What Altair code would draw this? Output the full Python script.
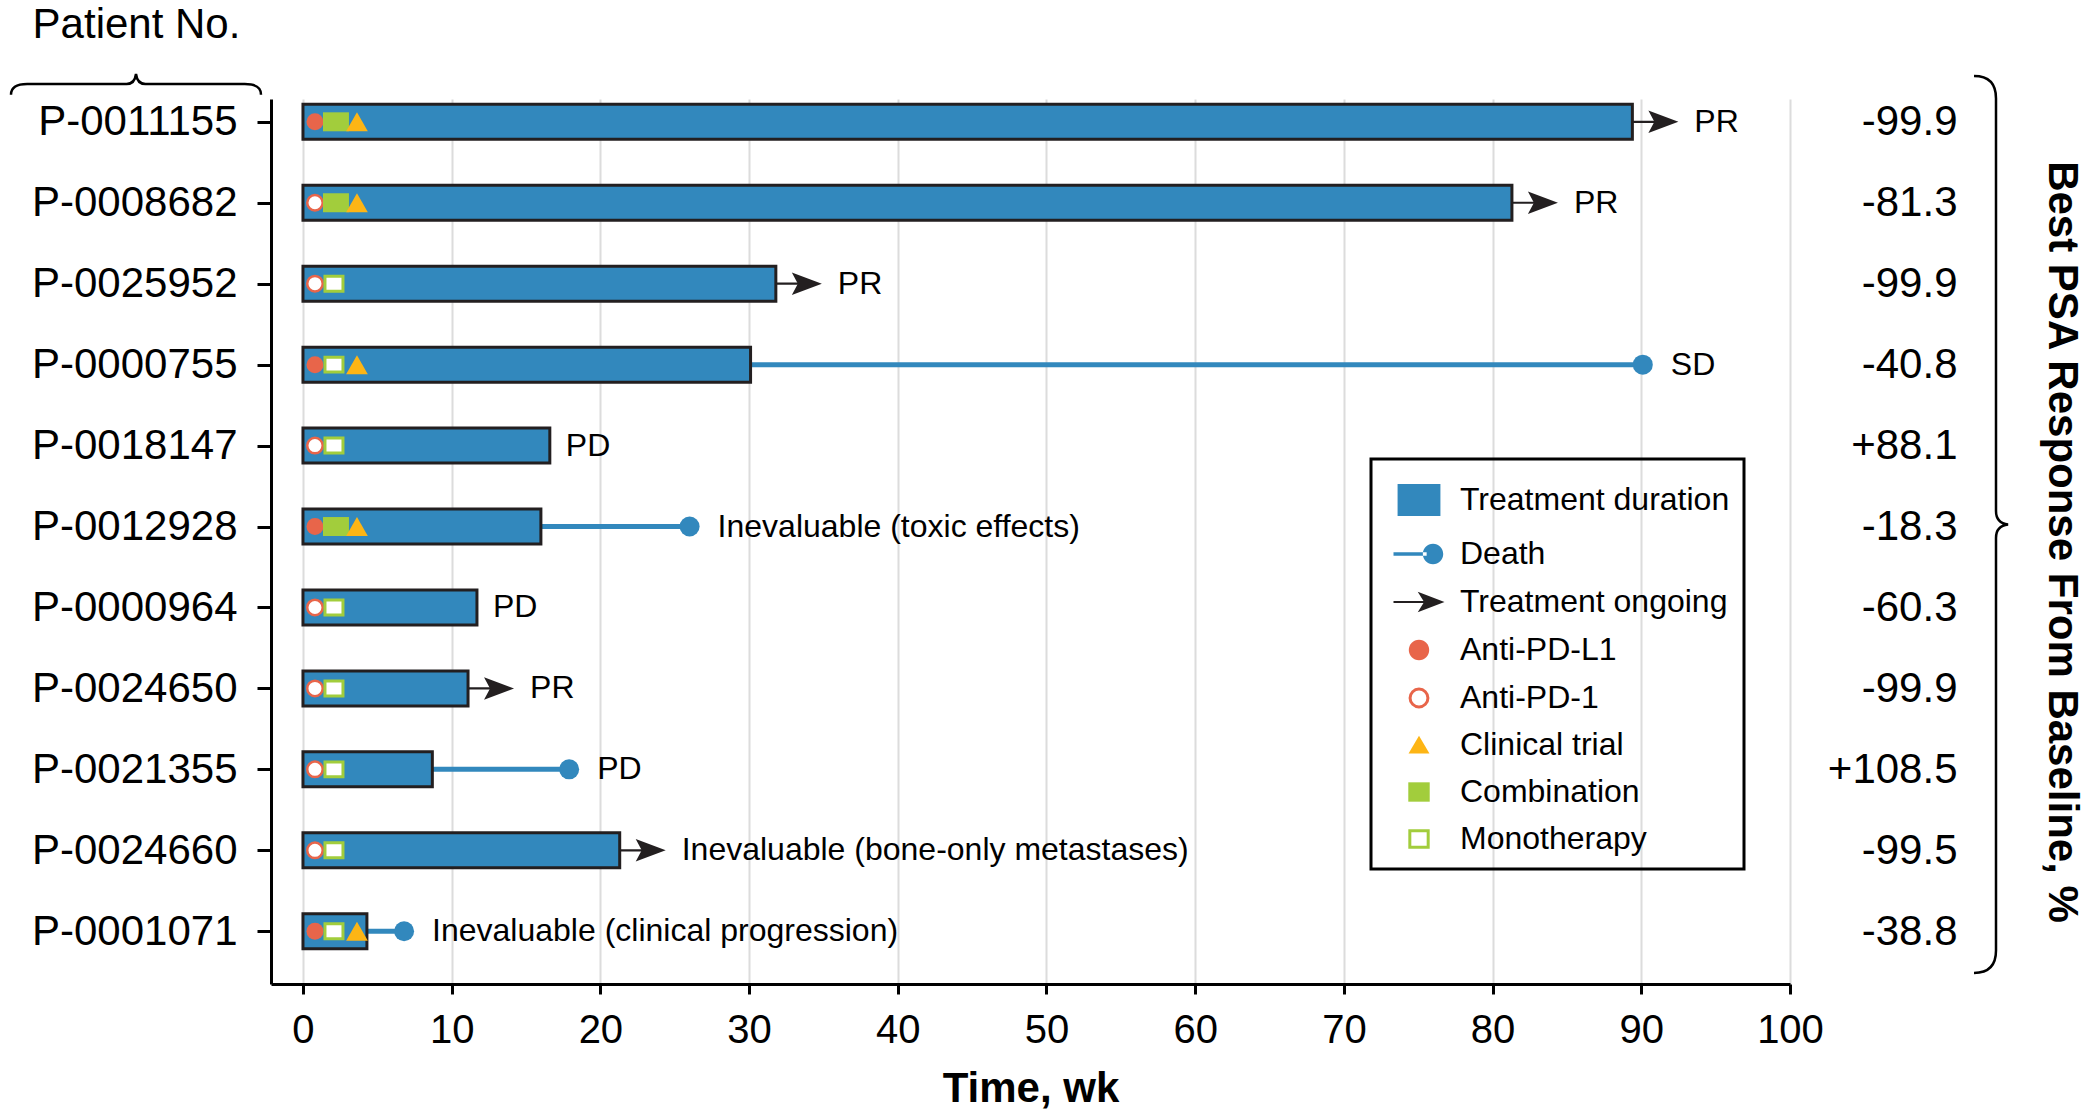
import json
import altair as alt
import pandas as pd

# ---- data -------------------------------------------------------------
patients = ["P-0011155", "P-0008682", "P-0025952", "P-0000755", "P-0018147", "P-0012928",
            "P-0000964", "P-0024650", "P-0021355", "P-0024660", "P-0001071"]
duration = [89.4, 81.3, 31.8, 30.1, 16.6, 16.0, 11.7, 11.1, 8.7, 21.3, 4.3]   # treatment duration, wk
death = [None, None, None, 90.1, None, 26.0, None, None, 17.9, None, 6.8]     # time of death, wk
ongoing = [True, True, True, False, False, False, False, True, False, True, False]
response = ["PR", "PR", "PR", "SD", "PD", "Inevaluable (toxic effects)", "PD", "PR", "PD",
            "Inevaluable (bone-only metastases)", "Inevaluable (clinical progression)"]
psa = ["-99.9", "-81.3", "-99.9", "-40.8", "+88.1", "-18.3", "-60.3", "-99.9", "+108.5", "-99.5", "-38.8"]
antibody = ["PD-L1", "PD-1", "PD-1", "PD-L1", "PD-1", "PD-L1", "PD-1", "PD-1", "PD-1", "PD-1", "PD-L1"]
regimen = ["Combination", "Combination", "Monotherapy", "Monotherapy", "Monotherapy", "Combination",
           "Monotherapy", "Monotherapy", "Monotherapy", "Monotherapy", "Monotherapy"]
trial = [True, True, False, True, False, True, False, False, False, False, True]

legend_items = ["Treatment duration", "Death", "Treatment ongoing", "Anti-PD-L1", "Anti-PD-1",
                "Clinical trial", "Combination", "Monotherapy"]

df = pd.DataFrame({
    "row": list(range(len(patients))),
    "patient": patients,
    "duration": duration,
    "death": death,
    "ongoing": ongoing,
    "response": response,
    "psa": psa,
    "antibody": antibody,
    "regimen": regimen,
    "trial": trial,
})
legend_df = pd.DataFrame({"item": legend_items})

# ---- styles -----------------------------------------------------------
FONT = "Liberation Sans"
BLUE = "#3288BD"
DARK = "#231F20"
RED = "#E8654A"
ORANGE = "#FDB515"
GREEN = "#A2CD3C"
GRID = "#DCDCDC"

ARROW_HEAD = "M-1,-0.75 L1,0 L-1,0.75 L-0.6,0 Z"
TRIANGLE = "M0,-0.875 L1,0.875 L-1,0.875 Z"
RECT_WIDE = "M-1,-0.73 L1,-0.73 L1,0.73 L-1,0.73 Z"
RECT_OPEN = "M-1,-0.83 L1,-0.83 L1,0.83 L-1,0.83 Z"
BRACE_TOP = "M-1,0.085 Q-1,0 -0.87,0 L-0.075,0 Q-0.01,0 0,-0.08 Q0.01,0 0.075,0 L0.87,0 Q1,0 1,0.085"
BRACE_RIGHT = "M-0.049,-1 Q0,-1 0,-0.95 L0,-0.03 Q0,-0.003 0.027,0 Q0,0.003 0,0.03 L0,0.95 Q0,1 -0.049,1"

# legend glyphs (unit box, drawn at a common symbol size)
legend_shapes = [
    "M-0.84,-0.63 L0.84,-0.63 L0.84,0.63 L-0.84,0.63 Z",
    "M-1,-0.07 L0.3,-0.07 L0.3,0.07 L-1,0.07 Z M0.15,0 A0.4,0.4 0 1,0 0.95,0 A0.4,0.4 0 1,0 0.15,0 Z",
    "M-1,-0.04 L0.2,-0.04 L0.2,0.04 L-1,0.04 Z M-0.05,-0.4 L1,0 L-0.05,0.4 L0.2,0 Z",
    "M-0.4,0 A0.4,0.4 0 1,0 0.4,0 A0.4,0.4 0 1,0 -0.4,0 Z",
    "M-0.35,0 A0.35,0.35 0 1,0 0.35,0 A0.35,0.35 0 1,0 -0.35,0 Z",
    "M0,-0.36 L0.41,0.33 L-0.41,0.33 Z",
    "M-0.42,-0.38 L0.42,-0.38 L0.42,0.38 L-0.42,0.38 Z",
    "M-0.36,-0.32 L0.36,-0.32 L0.36,0.32 L-0.36,0.32 Z",
]
legend_fills = [BLUE, BLUE, DARK, RED, "white", ORANGE, GREEN, "white"]
legend_strokes = ["transparent", "transparent", "transparent", "transparent", RED,
                  "transparent", "transparent", GREEN]

W, H = 1519, 885
LEFT, TOP = 271, 99

# ---- scales & axes ----------------------------------------------------
x_scale = alt.Scale(domain=[-2.15, 100], nice=False, zero=False)
y_scale = alt.Scale(domain=[-0.22, 10.59], nice=False, zero=False, reverse=True)

x_axis = alt.Axis(
    values=list(range(0, 101, 10)), title="Time, wk", grid=True, gridColor=GRID, gridWidth=2,
    domainColor="black", domainWidth=3, tickColor="black", tickWidth=3, tickSize=10,
    labelFontSize=40, labelPadding=16, labelColor="black", labelFlush=False, labelOverlap=False,
    titleFontSize=42, titleFontWeight="bold", titleColor="black", titleY=104, titleBaseline="middle",
)
y_axis_left = alt.Axis(
    values=list(range(len(patients))), labelExpr=json.dumps(patients) + "[datum.value]",
    grid=False, domainColor="black", domainWidth=3, tickColor="black", tickWidth=3, tickSize=14,
    labelFontSize=42, labelPadding=20, labelColor="black", labelOverlap=False, labelLimit=400,
    title="Patient No.", titleAngle=0, titleX=-135, titleY=-75, titleAlign="center",
    titleBaseline="middle", titleFontSize=42, titleFontWeight="normal", titleColor="black",
)
y_axis_right = alt.Axis(
    orient="right", values=list(range(len(psa))), labelExpr=json.dumps(psa) + "[datum.value]",
    grid=False, domain=False, ticks=False, tickSize=0, labelAlign="right", labelPadding=167,
    labelFontSize=42, labelColor="black", labelOverlap=False, labelLimit=400,
    title="Best PSA Response From Baseline, %", titleAngle=90, titleX=271, titleBaseline="middle",
    titleFontSize=42, titleFontWeight="bold", titleColor="black",
)


def X(field):
    return alt.X(f"{field}:Q", scale=x_scale, axis=x_axis, title="Time, wk")


def Y():
    return alt.Y("row:Q", scale=y_scale, axis=y_axis_left, title="Patient No.")


base = alt.Chart(df).transform_calculate(start="0")

# ---- layers -----------------------------------------------------------
death_line = base.transform_filter("isValid(datum.death)").mark_rule(
    color=BLUE, strokeWidth=5).encode(x=X("duration"), x2="death", y=Y())

arrow_line = base.transform_filter("datum.ongoing").mark_rule(
    color=DARK, strokeWidth=2.2, x2Offset=36).encode(x=X("duration"), x2="duration", y=Y())

arrow_head = base.transform_filter("datum.ongoing").mark_point(
    shape=ARROW_HEAD, filled=True, fill=DARK, size=900, opacity=1, xOffset=31, strokeWidth=0
).encode(x=X("duration"), y=Y())

bars = base.mark_bar(size=35, fill=BLUE, stroke=DARK, strokeWidth=3).encode(
    x=X("start"), x2="duration", y=Y())

death_dot = base.transform_filter("isValid(datum.death)").mark_point(
    shape="circle", filled=True, fill=BLUE, size=400, opacity=1, strokeWidth=0
).encode(x=X("death"), y=Y())

circle_full = base.transform_filter("datum.antibody == 'PD-L1'").mark_point(
    shape="circle", filled=True, fill=RED, size=289, opacity=1, strokeWidth=0, xOffset=12
).encode(x=X("start"), y=Y())

circle_open = base.transform_filter("datum.antibody == 'PD-1'").mark_point(
    shape="circle", filled=True, fill="white", stroke=RED, strokeWidth=2.5, size=240, opacity=1, xOffset=12
).encode(x=X("start"), y=Y())

square_full = base.transform_filter("datum.regimen == 'Combination'").mark_point(
    shape=RECT_WIDE, filled=True, fill=GREEN, size=676, opacity=1, strokeWidth=0, xOffset=33
).encode(x=X("start"), y=Y())

square_open = base.transform_filter("datum.regimen == 'Monotherapy'").mark_point(
    shape=RECT_OPEN, filled=True, fill="white", stroke=GREEN, strokeWidth=3, size=324, opacity=1, xOffset=31
).encode(x=X("start"), y=Y())

triangle = base.transform_filter("datum.trial").mark_point(
    shape=TRIANGLE, filled=True, fill=ORANGE, size=471, opacity=1, strokeWidth=0, xOffset=54
).encode(x=X("start"), y=Y())

text_style = dict(align="left", baseline="middle", fontSize=32, color="black")

label_plain = base.transform_filter("!datum.ongoing && !isValid(datum.death)").mark_text(
    dx=16, **text_style).encode(x=X("duration"), y=Y(), text="response:N")

label_death = base.transform_filter("isValid(datum.death)").mark_text(
    dx=28, **text_style).encode(x=X("death"), y=Y(), text="response:N")

label_ongoing = base.transform_filter("datum.ongoing").mark_text(
    dx=62, **text_style).encode(x=X("duration"), y=Y(), text="response:N")

# curly braces grouping the patient labels and the PSA values
brace_top = alt.Chart(legend_df.head(1)).mark_point(
    shape=BRACE_TOP, filled=False, stroke="black", strokeWidth=2.5, size=62500, opacity=1
).encode(x=alt.value(136 - LEFT), y=alt.value(84 - TOP))

brace_right = alt.Chart(legend_df.head(1)).mark_point(
    shape=BRACE_RIGHT, filled=False, stroke="black", strokeWidth=2.5, size=804609, opacity=1
).encode(x=alt.value(1996 - LEFT), y=alt.value(524.5 - TOP))

# legend built from scales over the legend item names
legend = alt.Legend(
    title=None, orient="none", legendX=1371 - LEFT, legendY=459 - TOP, symbolSize=2601,
    symbolStrokeWidth=3, labelFontSize=32, labelFont=FONT, labelColor="black", labelOffset=14,
    symbolOffset=7, padding=14, rowPadding=4, strokeColor="black", labelLimit=500,
)
legend_layer = alt.Chart(legend_df).transform_filter("false").mark_point(filled=True, opacity=1).encode(
    shape=alt.Shape("item:N", scale=alt.Scale(domain=legend_items, range=legend_shapes), legend=legend),
    fill=alt.Fill("item:N", scale=alt.Scale(domain=legend_items, range=legend_fills), legend=legend),
    stroke=alt.Stroke("item:N", scale=alt.Scale(domain=legend_items, range=legend_strokes), legend=legend),
)

main = alt.layer(
    death_line, arrow_line, bars, arrow_head, death_dot,
    circle_full, circle_open, square_full, square_open, triangle,
    label_plain, label_death, label_ongoing,
    brace_top, brace_right, legend_layer,
)

right_axis = alt.Chart(df).mark_point(opacity=0).encode(
    y=alt.Y("row:Q", scale=y_scale, axis=y_axis_right, title="Best PSA Response From Baseline, %"))

chart = alt.layer(main, right_axis).resolve_axis(y="independent").properties(
    width=W, height=H,
    autosize=alt.AutoSizeParams(type="none"),
    padding={"left": LEFT, "top": TOP, "right": 2099 - LEFT - W, "bottom": 1113 - TOP - H},
    background="white",
).configure(font=FONT).configure_view(strokeWidth=0).configure_legend(strokeWidth=3)

chart.save("out.html", embed_options={"renderer": "svg", "actions": False})
